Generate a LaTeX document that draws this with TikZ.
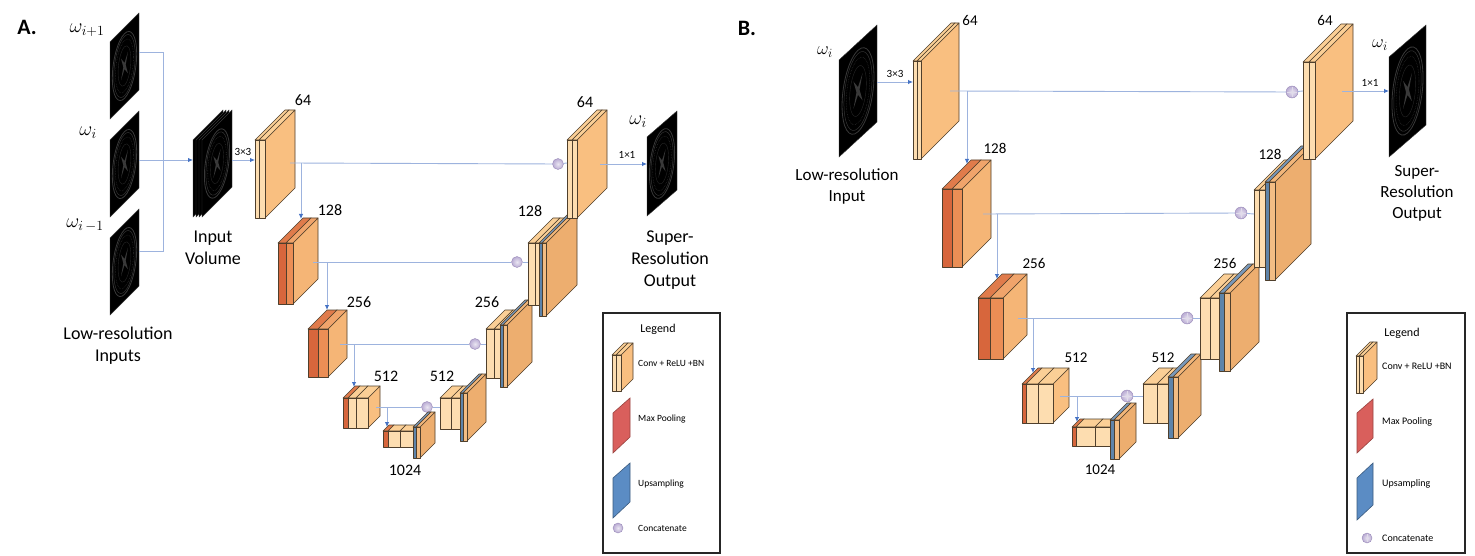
\documentclass[tikz,border=0pt]{standalone}
\usepackage{fix-cm}
\usepackage{fontspec}
\setmainfont{Carlito}
\usetikzlibrary{arrows.meta}
\pgfdeclarelayer{bg}
\pgfsetlayers{bg,main}

\definecolor{cvF}{HTML}{FDDDB0}
\definecolor{cvT}{HTML}{FBCF96}
\definecolor{cvS}{HTML}{F9BF80}
\definecolor{mpF}{HTML}{D7663C}
\definecolor{mpT}{HTML}{E07B4B}
\definecolor{mpS}{HTML}{E88E56}
\definecolor{orF}{HTML}{EB8E55}
\definecolor{orT}{HTML}{F0A46B}
\definecolor{orS}{HTML}{F5B576}
\definecolor{upF}{HTML}{5E84AA}
\definecolor{upT}{HTML}{7898BA}
\definecolor{upS}{HTML}{6A8DB2}
\definecolor{uoF}{HTML}{F3BD84}
\definecolor{uoT}{HTML}{F2B67A}
\definecolor{uoS}{HTML}{EDAE6F}
\definecolor{edgeC}{HTML}{4F3F2C}
\definecolor{lineC}{HTML}{9DB3DE}
\definecolor{tipC}{HTML}{4472C4}
\definecolor{catF}{HTML}{B9ABD3}
\definecolor{catD}{HTML}{9A8BB9}
\definecolor{legMP}{HTML}{D95F5C}
\definecolor{legUP}{HTML}{5B8CC4}

\tikzset{
  slabedge/.style={draw=edgeC, line width=0.6, line join=round},
  conn/.style={draw=lineC, line width=0.9},
  arr/.style={conn, -{Latex[length=5pt,width=4.5pt,color=tipC]}},
  catnode/.style={circle, inner sep=0pt, minimum size=11pt, draw=catD, line width=0.4,
                  inner color=catF!30!white, outer color=catF},
  catnodeb/.style={catnode, minimum size=12pt},
  num/.style={font=\fontsize{16}{18}\selectfont, inner sep=0pt},
  numb/.style={font=\fontsize{15}{17}\selectfont, inner sep=0pt},
  small/.style={font=\fontsize{11}{12}\selectfont, inner sep=0pt},
  big/.style={font=\fontsize{18}{22}\selectfont, align=center, inner sep=0pt},
  bigb/.style={font=\fontsize{17}{21}\selectfont, align=center, inner sep=0pt},
  mathlbl/.style={font=\fontsize{20}{24}\selectfont, inner sep=0pt},
  panel/.style={font=\bfseries\fontsize{22}{24}\selectfont, inner sep=0pt},
  legtitle/.style={font=\fontsize{12}{14}\selectfont, inner sep=0pt},
  legtxt/.style={font=\fontsize{9.5}{11}\selectfont, anchor=west, inner sep=0pt},
  legbox/.style={draw=black!85, line width=1.1},
}

% x, y (top-left of front face), w, h, depth, front, top, side colours
\newcommand\slab[8]{%
  \filldraw[slabedge, fill=#8] ({#1+#3},#2) -- ++(#5,-#5) -- ++(0,#4) -- ++(-#5,#5) -- cycle;
  \filldraw[slabedge, fill=#7] (#1,#2) -- ++(#5,-#5) -- ++(#3,0) -- ++(-#5,#5) -- cycle;
  \filldraw[slabedge, fill=#6] (#1,#2) rectangle ++(#3,#4);}
\newcommand\convslab[5]{\slab{#1}{#2}{#3}{#4}{#5}{cvF}{cvT}{cvS}}
\newcommand\poolslab[5]{\slab{#1}{#2}{#3}{#4}{#5}{mpF}{mpT}{mpS}}
\newcommand\orslab[5]{\slab{#1}{#2}{#3}{#4}{#5}{orF}{orT}{orS}}
\newcommand\upslab[5]{\slab{#1}{#2}{#3}{#4}{#5}{upF}{upT}{upS}}
\newcommand\uoslab[5]{\slab{#1}{#2}{#3}{#4}{#5}{uoF}{uoT}{uoS}}

% MRI slice: x, y (top of left edge), w, h, rise, brain(1/0)
\newcommand\mri[6]{%
  \begin{scope}[shift={(#1,#2)}, yslant={#5/#3}]
    \filldraw[fill=black, draw=gray!45!black, line width=0.4] (0,0) rectangle (#3,#4);
    \ifnum#6=1
      \draw[gray!45!black, line width=0.8] ({#3/2},{#4/2}) ellipse ({0.42*#3} and {0.42*#4});
      \draw[gray!40!black, line width=0.5] ({#3/2},{#4/2}) ellipse ({0.37*#3} and {0.385*#4});
      \draw[gray!35!black, line width=0.6, densely dotted] ({#3/2},{#4/2}) ellipse ({0.31*#3} and {0.33*#4});
      \draw[gray!30!black, line width=0.4] ({#3/2},{#4/2}) ellipse ({0.22*#3} and {0.25*#4});
      \fill[gray!45!black] ({0.38*#3},{0.36*#4}) -- ({#3/2},{0.46*#4}) -- ({0.62*#3},{0.36*#4})
        -- ({0.54*#3},{0.5*#4}) -- ({0.62*#3},{0.64*#4}) -- ({#3/2},{0.54*#4})
        -- ({0.38*#3},{0.64*#4}) -- ({0.46*#3},{0.5*#4}) -- cycle;
    \fi
  \end{scope}}

\begin{document}
\begin{tikzpicture}[x=1pt, y=-1pt]
\useasboundingbox[fill=white] (0,0) rectangle (1475,556);

% ================= PANEL A =================
\node[panel] (labA) at (27,27) {A.};

\mri{110}{42}{29}{77}{29}{1}
\mri{110}{140}{29}{77}{29}{1}
\mri{110}{238}{29}{77}{29}{1}
\node[mathlbl] (wa1) at (87,30) {$\omega_{i+1}$};
\node[mathlbl] (wa2) at (88,133) {$\omega_{i}$};
\node[mathlbl] (wa3) at (85,225) {$\omega_{i\,-1}$};
\node[big] (lowresA) at (118,346) {Low-resolution\\Inputs};

% input volume
\mri{193}{140}{30}{77}{30}{0}
\mri{196}{140}{30}{77}{30}{0}
\mri{199}{140}{30}{77}{30}{0}
\mri{202}{140}{30}{77}{30}{1}
\node[big] (volA) at (213,248) {Input\\Volume};

% concat nodes A
\node[catnode] (c1a) at (558,164) {};
\node[catnode] (c2a) at (517,262) {};
\node[catnode] (c3a) at (475,344) {};
\node[catnode] (c4a) at (427,407) {};

\coordinate (u64a) at (558,243);
\coordinate (u128a) at (517,325);
\coordinate (u256a) at (475,393);
\coordinate (u512a) at (427,427);
\begin{pgfonlayer}{bg}
  \draw[conn] (c1a) -- (u64a);
  \draw[conn] (c2a) -- (u128a);
  \draw[conn] (c3a) -- (u256a);
  \draw[conn] (c4a) -- (u512a);
\end{pgfonlayer}

% encoder A
\convslab{255}{140}{4}{78}{30}\convslab{259}{140}{6}{78}{30}
\poolslab{278}{243}{8}{61}{25}\orslab{286}{243}{7}{61}{25}
\poolslab{308}{329}{10}{48}{19}\orslab{318}{329}{10}{48}{19}
\poolslab{343}{398}{5}{30}{12}\convslab{348}{398}{8}{30}{12}\convslab{356}{398}{12}{30}{12}
\poolslab{383}{431}{5}{16}{6}\convslab{388}{431}{12}{16}{6}\convslab{400}{431}{13}{16}{6}
% decoder A
\upslab{413}{427}{3}{31}{15}\uoslab{416}{427}{4}{31}{15}
\convslab{440}{398}{11}{31}{12}\convslab{451}{398}{10}{31}{12}
\upslab{460}{393}{3}{48}{19}\uoslab{463}{393}{4}{48}{19}
\convslab{486}{329}{8}{49}{19}\convslab{494}{329}{8}{49}{19}
\upslab{500}{325}{3}{62}{25}\uoslab{503}{325}{4}{62}{25}
\convslab{528}{243}{7}{62}{25}\convslab{535}{243}{7}{62}{25}
\upslab{539}{243}{3}{73}{31}\uoslab{542}{243}{4}{73}{31}
\convslab{567}{140}{5}{78}{30}\convslab{572}{140}{5}{78}{30}

% output A
\mri{647}{137}{30}{79}{26}{1}
\node[mathlbl] (woa) at (638,122) {$\omega_{i}$};
\node[big] (srA) at (670,260) {Super-\\Resolution\\Output};

% numbers A
\node[num] (n64a) at (303,100) {64};
\node[num] (n128a) at (330,210) {128};
\node[num] (n256a) at (359,302) {256};
\node[num] (n512a) at (386,376) {512};
\node[num] (n1024a) at (405,470) {1024};
\node[num] (m512a) at (442,376) {512};
\node[num] (m256a) at (487,302) {256};
\node[num] (m128a) at (530,211) {128};
\node[num] (m64a) at (585,102) {64};
\node[small] (k3a) at (243,152) {3×3};
\node[small] (k1a) at (627,155) {1×1};

% connectors A
\coordinate (sl1) at (139,52); \coordinate (sl2) at (139,160); \coordinate (sl3) at (139,251);
\coordinate (jn1) at (163,52); \coordinate (jn3) at (163,251);
\coordinate (volin) at (193,160); \coordinate (volout) at (232,160);
\coordinate (e64ain) at (255,160);
\draw[conn] (sl1) -- (jn1) -- (jn3) -- (sl3);
\draw[arr] (sl2) -- (volin);
\draw[arr] (volout) -- (e64ain);

\coordinate (e64ao) at (290,163); \coordinate (e64ab) at (301,163); \coordinate (e128at) at (301,219);
\coordinate (d64ai) at (567,163);
\draw[conn] (e64ao) -- (c1a) -- (d64ai);
\draw[arr] (e64ab) -- (e128at);

\coordinate (e128ao) at (313,262); \coordinate (e128ab) at (327,262); \coordinate (e256at) at (327,310);
\coordinate (d128ai) at (528,262);
\draw[conn] (e128ao) -- (c2a) -- (d128ai);
\draw[arr] (e128ab) -- (e256at);

\coordinate (e256ao) at (340,344); \coordinate (e256ab) at (354,344); \coordinate (e512at) at (354,387);
\coordinate (d256ai) at (486,344);
\draw[conn] (e256ao) -- (c3a) -- (d256ai);
\draw[arr] (e256ab) -- (e512at);

\coordinate (e512ao) at (376,407); \coordinate (e512ab) at (387,407); \coordinate (e1024at) at (387,427);
\coordinate (d512ai) at (440,407);
\draw[conn] (e512ao) -- (c4a) -- (d512ai);
\draw[arr] (e512ab) -- (e1024at);

\coordinate (d64ao) at (600,164); \coordinate (outai) at (647,164);
\draw[arr] (d64ao) -- (outai);

% legend A
\draw[legbox] (603,313) rectangle (720,553);
\node[legtitle] (legA) at (658,329) {Legend};
\convslab{612}{355}{4}{36}{12}\convslab{616}{355}{5}{36}{12}
\filldraw[fill=legMP, draw=legMP!70!black, line width=0.6] (613,413) -- (630,398) -- (630,437) -- (613,453) -- cycle;
\filldraw[fill=legUP, draw=legUP!65!black, line width=0.6] (613,478) -- (630,463) -- (630,502) -- (613,518) -- cycle;
\node[catnode, minimum size=10pt] (lcA) at (618,528) {};
\node[legtxt] (lt1a) at (638,363) {Conv + ReLU +BN};
\node[legtxt] (lt2a) at (638,419) {Max Pooling};
\node[legtxt] (lt3a) at (638,484) {Upsampling};
\node[legtxt] (lt4a) at (638,528) {Concatenate};

% ================= PANEL B =================
\node[panel] (labB) at (747,28) {B.};

\mri{839}{60}{38}{97}{35}{1}
\node[mathlbl, font=\fontsize{18}{22}\selectfont] (wib) at (825,52) {$\omega_{i}$};
\node[bigb] (lowresB) at (847,186) {Low-resolution\\Input};

% concat nodes B
\node[catnodeb] (c1b) at (1292,92) {};
\node[catnodeb] (c2b) at (1241,213) {};
\node[catnodeb] (c3b) at (1187,318) {};
\node[catnodeb] (c4b) at (1127,396) {};
\foreach \c in {c1b,c2b,c3b,c4b}{
  \draw[white!70!catD, line width=0.5] ([yshift=-5pt]\c.center) -- ([yshift=5pt]\c.center);
  \draw[white!70!catD, line width=0.5] ([xshift=-5pt]\c.center) -- ([xshift=5pt]\c.center);
}

\coordinate (u64b) at (1292,182);
\coordinate (u128b) at (1241,293);
\coordinate (u256b) at (1187,377);
\coordinate (u512b) at (1127,420);
\begin{pgfonlayer}{bg}
  \draw[conn] (c1b) -- (u64b);
  \draw[conn] (c2b) -- (u128b);
  \draw[conn] (c3b) -- (u256b);
  \draw[conn] (c4b) -- (u512b);
\end{pgfonlayer}

% encoder B
\convslab{913}{61}{4}{98}{38}\convslab{917}{61}{4}{98}{38}
\poolslab{942}{189}{10}{78}{29}\orslab{952}{189}{10}{78}{29}
\poolslab{978}{298}{12}{61}{24}\orslab{990}{298}{13}{61}{24}
\poolslab{1022}{384}{4}{39}{16}\convslab{1026}{384}{12}{39}{16}\convslab{1038}{384}{15}{39}{16}
\poolslab{1072}{427}{4}{19}{8}\convslab{1076}{427}{19}{19}{8}\convslab{1095}{427}{15}{19}{8}
% decoder B
\upslab{1110}{420}{4}{39}{17}\uoslab{1114}{420}{5}{39}{17}
\convslab{1143}{384}{14}{39}{16}\convslab{1157}{384}{13}{39}{16}
\upslab{1168}{377}{5}{61}{23}\uoslab{1173}{377}{5}{61}{23}
\convslab{1200}{298}{10}{61}{24}\convslab{1210}{298}{10}{61}{24}
\upslab{1219}{293}{5}{78}{29}\uoslab{1224}{293}{6}{78}{29}
\convslab{1254}{190}{5}{77}{30}\convslab{1259}{190}{6}{77}{30}
\upslab{1265}{182}{4}{98}{36}\uoslab{1269}{182}{6}{98}{36}
\convslab{1303}{62}{6}{97}{38}\convslab{1309}{62}{6}{97}{38}

% output B
\mri{1389}{57}{37}{100}{32}{1}
\node[mathlbl, font=\fontsize{18}{22}\selectfont] (wob) at (1380,45) {$\omega_{i}$};
\node[bigb] (srB) at (1417,193) {Super-\\Resolution\\Output};

% numbers B
\node[numb] (n64b) at (970,20) {64};
\node[numb] (n128b) at (995,148) {128};
\node[numb] (n256b) at (1034,263) {256};
\node[numb] (n512b) at (1076,358) {512};
\node[numb] (n1024b) at (1100,470) {1024};
\node[numb] (m512b) at (1163,358) {512};
\node[numb] (m256b) at (1225,263) {256};
\node[numb] (m128b) at (1270,154) {128};
\node[numb] (m64b) at (1325,20) {64};
\node[small] (k3b) at (895,74) {3×3};
\node[small] (k1b) at (1370,83) {1×1};

% connectors B
\coordinate (inbo) at (877,82); \coordinate (e64bi) at (913,82);
\draw[arr] (inbo) -- (e64bi);

\coordinate (e64bo) at (950,91); \coordinate (e64bb) at (967,91); \coordinate (e128bt) at (967,164);
\coordinate (d64bi) at (1303,91);
\draw[conn] (e64bo) -- (c1b) -- (d64bi);
\draw[arr] (e64bb) -- (e128bt);

\coordinate (e128bo) at (983,214); \coordinate (e128bb) at (997,214); \coordinate (e256bt) at (997,279);
\coordinate (d128bi) at (1254,214);
\draw[conn] (e128bo) -- (c2b) -- (d128bi);
\draw[arr] (e128bb) -- (e256bt);

\coordinate (e256bo) at (1018,318); \coordinate (e256bb) at (1033,318); \coordinate (e512bt) at (1033,373);
\coordinate (d256bi) at (1200,318);
\draw[conn] (e256bo) -- (c3b) -- (d256bi);
\draw[arr] (e256bb) -- (e512bt);

\coordinate (e512bo) at (1060,396); \coordinate (e512bb) at (1077,396); \coordinate (e1024bt) at (1077,422);
\coordinate (d512bi) at (1143,396);
\draw[conn] (e512bo) -- (c4b) -- (d512bi);
\draw[arr] (e512bb) -- (e1024bt);

\coordinate (d64bo) at (1342,91); \coordinate (outbi) at (1389,91);
\draw[arr] (d64bo) -- (outbi);

% legend B
\draw[legbox] (1347,313) rectangle (1465,553);
\node[legtitle] (legB) at (1402,333) {Legend};
\convslab{1356}{356}{3}{37}{14}\convslab{1359}{356}{4}{37}{14}
\filldraw[fill=legMP, draw=legMP!70!black, line width=0.6] (1357,413) -- (1373,399) -- (1373,438) -- (1357,453) -- cycle;
\filldraw[fill=legUP, draw=legUP!65!black, line width=0.6] (1357,478) -- (1373,463) -- (1373,505) -- (1357,520) -- cycle;
\node[catnode, minimum size=10pt] (lcB) at (1367,538) {};
\draw[white!70!catD, line width=0.5] ([yshift=-4pt]lcB.center) -- ([yshift=4pt]lcB.center);
\node[legtxt, font=\fontsize{10}{12}\selectfont] (lt1b) at (1382,366) {Conv + ReLU +BN};
\node[legtxt, font=\fontsize{10}{12}\selectfont] (lt2b) at (1382,422) {Max Pooling};
\node[legtxt, font=\fontsize{10}{12}\selectfont] (lt3b) at (1382,484) {Upsampling};
\node[legtxt, font=\fontsize{10}{12}\selectfont] (lt4b) at (1382,538) {Concatenate};
\end{tikzpicture}
\end{document}
